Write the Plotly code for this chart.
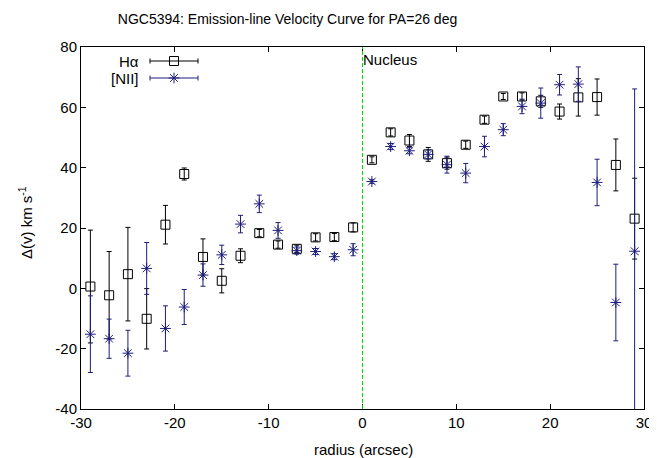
import plotly.graph_objects as go

# radius (arcsec) of each slit position
radius = [-29, -27, -25, -23, -21, -19, -17, -15, -13, -11, -9, -7, -5, -3, -1,
          1, 3, 5, 7, 9, 11, 13, 15, 17, 19, 21, 23, 25, 27, 29]

# H-alpha velocities and errors
ha_v = [0.6, -2.3, 4.7, -10.1, 21.1, 37.9, 10.4, 2.5, 10.8, 18.3, 14.5, 13.1, 16.9, 17.0, 20.2,
        42.6, 51.7, 49.0, 44.4, 41.5, 47.6, 55.9, 63.6, 63.6, 62.0, 58.6, 63.3, 63.4, 40.9, 23.1]
ha_err = [18.7, 14.5, 15.5, 10.0, 6.4, 2.0, 6.0, 4.0, 2.3, 1.2, 1.2, 1.2, 1.2, 1.2, 1.5,
          1.0, 1.2, 2.0, 2.3, 2.0, 1.2, 1.2, 1.0, 1.2, 2.0, 2.5, 6.2, 6.0, 8.6, 13.4]

# [NII] velocities and errors
nii_v = [-15.2, -16.7, -21.5, 6.6, -13.3, -6.2, 4.4, 11.1, 21.3, 28.0, 19.2, 12.5, 12.2, 10.5, 12.8,
         35.4, 47.0, 45.6, 44.4, 41.0, 38.2, 47.0, 52.6, 60.3, 61.4, 67.5, 67.7, 35.1, -4.7, 12.3]
nii_err = [12.7, 6.5, 7.6, 8.6, 7.5, 5.8, 3.7, 3.2, 2.9, 2.9, 2.6, 1.2, 1.0, 1.0, 2.0,
           0.6, 1.0, 1.0, 1.5, 2.8, 3.2, 3.4, 2.0, 2.4, 5.0, 3.4, 5.7, 7.7, 12.7, 53.8]

# tick labels (plain hyphen minus, as gnuplot draws them)
x_ticks = [-30, -20, -10, 0, 10, 20, 30]
x_ticktext = ["-30", "-20", "-10", "0", "10", "20", "30"]
y_ticks = [-40, -20, 0, 20, 40, 60, 80]
y_ticktext = ["-40", "-20", "0", "20", "40", "60", "80"]

BLACK = "#000000"
NAVY = "#1e1e7c"
FONT = "Liberation Sans, Arial, Helvetica, sans-serif"

# the page body adds an 8px margin, so the figure is drawn 8px smaller
# and everything is laid out in page pixels minus that offset
OFF = 8
W, H = 657 - OFF, 458 - OFF
L, R, T, B = 81 - OFF, 13, 47 - OFF, 458 - 409
pw, ph = W - L - R, H - T - B


def px_x(p):
    return (p - OFF - L) / pw


def px_y(p):
    return ((H - B) - (p - OFF)) / ph


fig = go.Figure()

fig.add_trace(go.Scatter(
    x=radius, y=ha_v, mode="markers", name="H\u03b1",
    marker=dict(symbol="square-open", size=9, color=BLACK, line=dict(width=1)),
    error_y=dict(type="data", array=ha_err, color=BLACK, thickness=1, width=2.5),
    showlegend=False,
))
fig.add_trace(go.Scatter(
    x=radius, y=nii_v, mode="markers", name="[NII]",
    marker=dict(symbol="asterisk-open", size=9, color=NAVY, line=dict(width=1, color=NAVY)),
    error_y=dict(type="data", array=nii_err, color=NAVY, thickness=1, width=2.5),
    showlegend=False,
))

# hand-made legend on an overlay axis (0..1 over the plot area), gnuplot style
leg_rows = [("H\u03b1", "square-open", BLACK, 61), ("[NII]", "asterisk-open", NAVY, 78)]
for label, sym, col, py in leg_rows:
    fig.add_trace(go.Scatter(
        x=[px_x(174)], y=[px_y(py)], xaxis="x2", yaxis="y2", mode="markers",
        marker=dict(symbol=sym, size=9, color=col, line=dict(width=1, color=col)),
        error_x=dict(type="constant", value=24 / pw, color=col, thickness=1, width=2.5),
        showlegend=False, hoverinfo="skip",
    ))
    fig.add_annotation(text=label, xref="x2", yref="y2", x=px_x(141), y=px_y(py),
                       xanchor="right", yanchor="middle", showarrow=False,
                       font=dict(family=FONT, size=15, color=BLACK))

# nucleus marker
fig.add_shape(type="line", x0=0, x1=0, xref="x", y0=0, y1=1, yref="paper",
              line=dict(color="#00dd00", width=1, dash="4px,2px"))
fig.add_annotation(text="Nucleus", x=0, xref="x", y=px_y(60), yref="paper",
                   xanchor="left", yanchor="middle", showarrow=False, xshift=-2,
                   font=dict(family=FONT, size=15, color=BLACK))

# axis titles placed like gnuplot
fig.add_annotation(text="radius (arcsec)", xref="paper", yref="paper",
                   x=px_x(363), y=px_y(449),
                   xanchor="center", yanchor="middle", showarrow=False,
                   font=dict(family=FONT, size=15, color=BLACK))
fig.add_annotation(text="\u0394(v) km s<sup>-1</sup>", xref="paper", yref="paper",
                   x=px_x(25), y=px_y(223), textangle=-90,
                   xanchor="center", yanchor="middle", showarrow=False,
                   font=dict(family=FONT, size=15, color=BLACK))

axis_common = dict(
    showgrid=False, zeroline=False, showline=True, linecolor=BLACK, linewidth=1,
    mirror="ticks", ticks="inside", ticklen=5, tickcolor=BLACK, automargin=False,
    tickfont=dict(family=FONT, size=15, color=BLACK),
)

fig.update_layout(
    width=W, height=H,
    margin=dict(l=L, r=R, t=T, b=B, autoexpand=False),
    paper_bgcolor="white", plot_bgcolor="white",
    font=dict(family=FONT, color=BLACK),
    title=dict(text="NGC5394: Emission-line Velocity Curve for PA=26 deg",
               x=(287.5 - OFF) / W, xref="container", xanchor="center",
               y=1 - (19 - OFF) / H, yref="container", yanchor="middle",
               font=dict(family=FONT, size=14, color=BLACK)),
    xaxis=dict(range=[-30, 30], tickvals=x_ticks, ticktext=x_ticktext, **axis_common),
    yaxis=dict(range=[-40, 80], tickvals=y_ticks, ticktext=y_ticktext, **axis_common),
    xaxis2=dict(range=[0, 1], overlaying="x", visible=False, fixedrange=True),
    yaxis2=dict(range=[0, 1], overlaying="y", visible=False, fixedrange=True),
)

fig.write_html("out.html")
